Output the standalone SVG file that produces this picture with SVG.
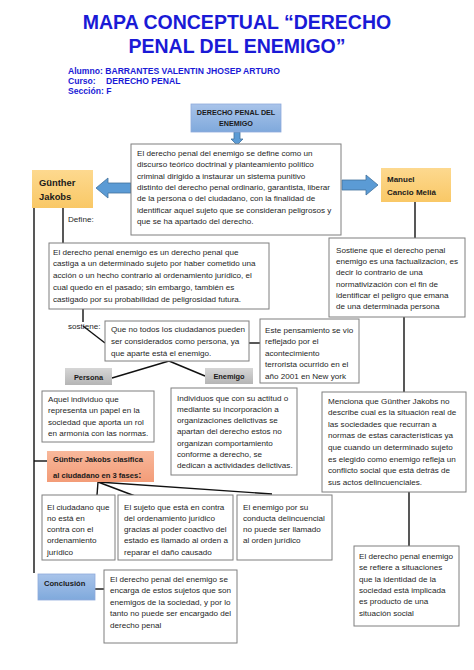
<svg xmlns="http://www.w3.org/2000/svg" width="474" height="670" viewBox="0 0 474 670">
<defs>
<linearGradient id="gBlue" x1="0" y1="0" x2="0" y2="1"><stop offset="0" stop-color="#a9c4ea"/><stop offset="1" stop-color="#7fa9dc"/></linearGradient>
<linearGradient id="gOrange" x1="0" y1="0" x2="0" y2="1"><stop offset="0" stop-color="#fdd98f"/><stop offset="1" stop-color="#f9c866"/></linearGradient>
<linearGradient id="gSalmon" x1="0" y1="0" x2="0" y2="1"><stop offset="0" stop-color="#f8b89b"/><stop offset="1" stop-color="#f39c78"/></linearGradient>
<linearGradient id="gGray" x1="0" y1="0" x2="0" y2="1"><stop offset="0" stop-color="#d6d6d6"/><stop offset="1" stop-color="#b5b5b5"/></linearGradient>
<style>
.title{font-family:"Liberation Sans",Arial,sans-serif;font-weight:bold;font-size:19.5px;fill:#1a1ad6;text-anchor:middle}
.info{font-family:"Liberation Sans",Arial,sans-serif;font-weight:bold;font-size:8.6px;fill:#1a1ad6}
.t{font-family:"Liberation Sans",Arial,sans-serif;font-size:8.1px;fill:#262626}
.bt{font-family:"Liberation Sans",Arial,sans-serif;font-size:8px;font-weight:bold;fill:#1a1a1a}
.box{fill:#fff;stroke:#7f7f7f;stroke-width:1}
.cl{stroke:#111;stroke-width:1.4;fill:none}
.arr{fill:#5b9bd5;stroke:#41719c;stroke-width:0.8}
</style>
</defs>
<rect width="474" height="670" fill="#fff"/>
<g id="title">
<text class="title" x="237" y="29">MAPA CONCEPTUAL “DERECHO</text>
<text class="title" x="237" y="53">PENAL DEL ENEMIGO”</text>
<text class="info" x="68" y="74">Alumno: BARRANTES VALENTIN JHOSEP ARTURO</text>
<text class="info" x="68" y="84">Curso:</text><text class="info" x="106" y="84">DERECHO PENAL</text>
<text class="info" x="68" y="94">Sección: F</text>
</g>
<g id="connectors">
<polygon class="arr" points="234,132 240,132 240,139 243,139 237,145 231,139 234,139"/>
<polygon class="arr" points="131,183 108,183 108,178 96,188 108,198 108,193 131,193"/>
<polygon class="arr" points="342,180 366,180 366,175 378,185 366,195 366,190 342,190"/>
<line class="cl" x1="34" y1="208" x2="34" y2="573"/>
<line class="cl" x1="34" y1="461" x2="47" y2="461"/>
<line class="cl" x1="63" y1="208" x2="63" y2="243"/>
<line class="cl" x1="415" y1="202" x2="415" y2="238"/>
<line class="cl" x1="404" y1="317" x2="404" y2="392"/>
<line class="cl" x1="409" y1="492" x2="409" y2="546"/>
<line class="cl" x1="83" y1="309" x2="83" y2="322"/>
<line class="cl" x1="83" y1="326" x2="105" y2="343"/>
<line class="cl" x1="249" y1="343" x2="260" y2="343"/>
<line class="cl" x1="169" y1="361" x2="112" y2="378"/>
<line class="cl" x1="169" y1="361" x2="205" y2="376"/>
<line class="cl" x1="98" y1="482" x2="97" y2="495"/>
<line class="cl" x1="98" y1="482" x2="135" y2="496"/>
<line class="cl" x1="98" y1="482" x2="272" y2="494"/>
<line class="cl" x1="95" y1="589" x2="104" y2="589"/>
<text class="t" x="68" y="222">Define:</text>
<text class="t" x="68" y="329">sostiene:</text>
</g>
<g id="n-dpe">
<rect x="191" y="104" width="90" height="28" fill="url(#gBlue)" stroke="#8eaadb" stroke-width="0.8"/>
<text class="bt" style="font-size:7.2px" x="236" y="115" text-anchor="middle">DERECHO PENAL DEL</text>
<text class="bt" style="font-size:7.2px" x="236" y="126" text-anchor="middle">ENEMIGO</text>
</g>
<g id="n-def">
<rect class="box" x="131" y="144" width="210" height="91"/>
<text class="t" x="137" y="156">El derecho penal del enemigo se define como un</text>
<text class="t" x="137" y="167.3">discurso teórico doctrinal y planteamiento político</text>
<text class="t" x="137" y="178.6">criminal dirigido a instaurar un sistema punitivo</text>
<text class="t" x="137" y="189.9">distinto del derecho penal ordinario, garantista, liberar</text>
<text class="t" x="137" y="201.2">de la persona o del ciudadano, con la finalidad de</text>
<text class="t" x="137" y="212.5">identificar aquel sujeto que se consideran peligrosos y</text>
<text class="t" x="137" y="223.8">que se ha apartado del derecho.</text>
</g>
<g id="n-jakobs">
<rect x="32" y="170" width="61" height="38" fill="url(#gOrange)"/>
<text class="bt" style="font-size:9.4px" x="39" y="186">Günther</text>
<text class="bt" style="font-size:9.4px" x="39" y="200">Jakobs</text>
</g>
<g id="n-cancio">
<rect x="381" y="168" width="70" height="34" fill="url(#gOrange)"/>
<text class="bt" x="387" y="182">Manuel</text>
<text class="bt" x="387" y="195">Cancio Meliá</text>
</g>
<g id="n-sostiene">
<rect class="box" x="329" y="238" width="136" height="79"/>
<text class="t" x="336" y="253">Sostiene que el derecho penal</text>
<text class="t" x="336" y="264.2">enemigo es una factualizacion, es</text>
<text class="t" x="336" y="275.4">decir lo contrario de una</text>
<text class="t" x="336" y="286.6">normativización con el fin de</text>
<text class="t" x="336" y="297.8">identificar el peligro que emana</text>
<text class="t" x="336" y="309">de una determinada persona</text>
</g>
<g id="n-dpe2">
<rect class="box" x="49" y="243" width="220" height="66"/>
<text class="t" x="53" y="254.5">El derecho penal enemigo es un derecho penal que</text>
<text class="t" x="53" y="266.3">castiga a un determinado sujeto por haber cometido una</text>
<text class="t" x="53" y="278.1">acción o un hecho contrario al ordenamiento jurídico, el</text>
<text class="t" x="53" y="289.9">cual quedo en el pasado; sin embargo, también es</text>
<text class="t" x="53" y="301.7">castigado por su probabilidad de peligrosidad futura.</text>
</g>
<g id="n-que">
<rect class="box" x="105" y="321" width="144" height="40"/>
<text class="t" x="111" y="331.5">Que no todos los ciudadanos pueden</text>
<text class="t" x="111" y="343.5">ser considerados como persona, ya</text>
<text class="t" x="111" y="355.5">que aparte está el enemigo.</text>
</g>
<g id="n-este">
<rect class="box" x="260" y="319" width="99" height="64"/>
<text class="t" x="265" y="332.5">Este pensamiento se vio</text>
<text class="t" x="265" y="344">reflejado por el</text>
<text class="t" x="265" y="355.5">acontecimiento</text>
<text class="t" x="265" y="367">terrorista ocurrido en el</text>
<text class="t" x="265" y="378.5">año 2001 en New york</text>
</g>
<g id="n-persona">
<rect x="65" y="368" width="47" height="17" fill="url(#gGray)"/>
<text class="bt" style="font-size:7.4px" x="88.5" y="379.5" text-anchor="middle">Persona</text>
</g>
<g id="n-enemigo">
<rect x="205" y="368" width="48" height="16" fill="url(#gGray)"/>
<text class="bt" style="font-size:7.4px" x="229" y="379" text-anchor="middle">Enemigo</text>
</g>
<g id="n-aquel">
<rect class="box" x="42" y="391" width="112" height="51"/>
<text class="t" x="48" y="401.5">Aquel individuo que</text>
<text class="t" x="48" y="413">representa un papel en la</text>
<text class="t" x="48" y="424.5">sociedad que aporta un rol</text>
<text class="t" x="48" y="436">en armonía con las normas.</text>
</g>
<g id="n-individuos">
<rect class="box" x="171" y="388" width="126" height="87"/>
<text class="t" x="177" y="400.5">Individuos que con su actitud o</text>
<text class="t" x="177" y="411.8">mediante su incorporación a</text>
<text class="t" x="177" y="423.1">organizaciones delictivas se</text>
<text class="t" x="177" y="434.4">apartan del derecho estos no</text>
<text class="t" x="177" y="445.7">organizan comportamiento</text>
<text class="t" x="177" y="457">conforme a derecho, se</text>
<text class="t" x="177" y="468.3">dedican a actividades delictivas.</text>
</g>
<g id="n-menciona">
<rect class="box" x="322" y="392" width="144" height="100"/>
<text class="t" x="328" y="403.5">Menciona que Günther Jakobs no</text>
<text class="t" x="328" y="415.1">describe cual es la situación real de</text>
<text class="t" x="328" y="426.7">las sociedades que recurran a</text>
<text class="t" x="328" y="438.3">normas de estas características ya</text>
<text class="t" x="328" y="449.9">que cuando un determinado sujeto</text>
<text class="t" x="328" y="461.5">es elegido como enemigo refleja un</text>
<text class="t" x="328" y="473.1">conflicto social que está detrás de</text>
<text class="t" x="328" y="484.7">sus actos delincuenciales.</text>
</g>
<g id="n-clasifica">
<rect x="47" y="451" width="107" height="31" fill="url(#gSalmon)"/>
<text class="bt" style="font-size:7.6px" x="53" y="462">Günther Jakobs clasifica</text>
<text class="bt" style="font-size:7.6px" x="53" y="478">al ciudadano en 3 fases<tspan style="font-size:9.5px">:</tspan></text>
</g>
<g id="n-fase1">
<rect class="box" x="42" y="495" width="73" height="65"/>
<text class="t" x="47" y="509.5">El ciudadano que</text>
<text class="t" x="47" y="520.8">no está en</text>
<text class="t" x="47" y="532.1">contra con el</text>
<text class="t" x="47" y="543.4">ordenamiento</text>
<text class="t" x="47" y="554.7">jurídico</text>
</g>
<g id="n-fase2">
<rect class="box" x="118" y="495" width="115" height="65"/>
<text class="t" x="124" y="509.5">El sujeto que está en contra</text>
<text class="t" x="124" y="520.8">del ordenamiento jurídico</text>
<text class="t" x="124" y="532.1">gracias al poder coactivo del</text>
<text class="t" x="124" y="543.4">estado es llamado al orden a</text>
<text class="t" x="124" y="554.7">reparar el daño causado</text>
</g>
<g id="n-fase3">
<rect class="box" x="237" y="495" width="95" height="65"/>
<text class="t" x="243" y="509.5">El enemigo por su</text>
<text class="t" x="243" y="520.8">conducta delincuencial</text>
<text class="t" x="243" y="532.1">no puede ser llamado</text>
<text class="t" x="243" y="543.4">al orden jurídico</text>
</g>
<g id="n-refiere">
<rect class="box" x="354" y="546" width="105" height="80"/>
<text class="t" x="359" y="558.7">El derecho penal enemigo</text>
<text class="t" x="359" y="570.1">se refiere a situaciones</text>
<text class="t" x="359" y="581.5">que la identidad de la</text>
<text class="t" x="359" y="592.9">sociedad está implicada</text>
<text class="t" x="359" y="604.3">es producto de una</text>
<text class="t" x="359" y="615.7">situación social</text>
</g>
<g id="n-conclusion">
<rect x="38" y="574" width="57" height="26" fill="url(#gBlue)" stroke="#8eaadb" stroke-width="0.8"/>
<text class="bt" style="font-size:7.6px" x="44" y="586">Conclusión</text>
</g>
<g id="n-conctext">
<rect class="box" x="104" y="570" width="133" height="73"/>
<text class="t" x="110" y="581.7">El derecho penal del enemigo se</text>
<text class="t" x="110" y="593.2">encarga de estos sujetos que son</text>
<text class="t" x="110" y="604.7">enemigos de la sociedad, y por lo</text>
<text class="t" x="110" y="616.2">tanto no puede ser encargado del</text>
<text class="t" x="110" y="627.7">derecho penal</text>
</g>
</svg>
